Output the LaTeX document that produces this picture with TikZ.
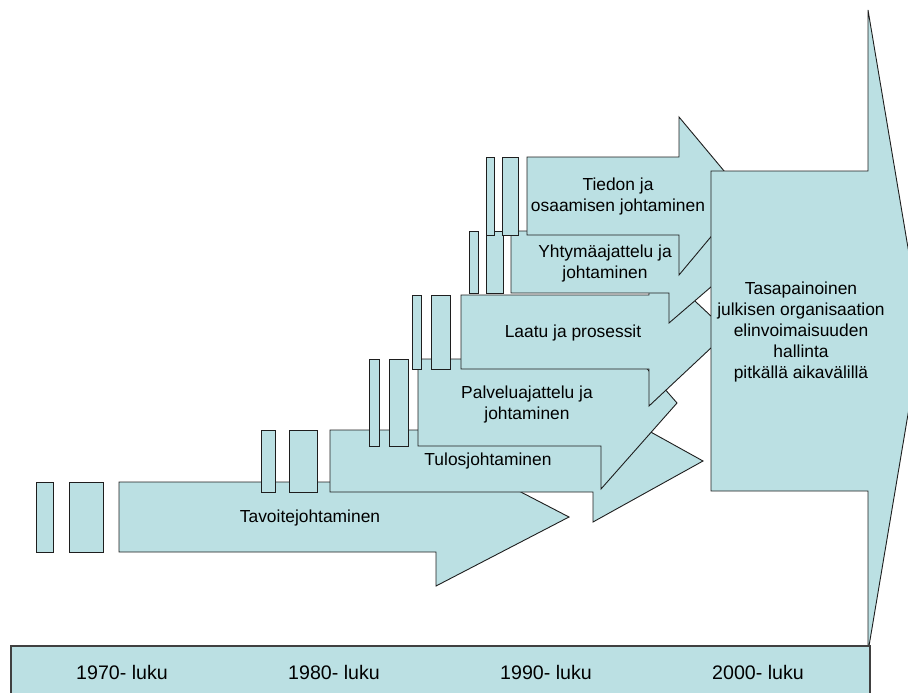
\documentclass[tikz,border=0pt]{standalone}
\usepackage{fontspec}
\setmainfont{Liberation Sans}
\definecolor{fillc}{RGB}{187,224,227}
\definecolor{linec}{RGB}{30,30,30}
\begin{document}
\begin{tikzpicture}[x=1pt,y=-1pt,
  shp/.style={fill=fillc,draw=linec,line width=0.9pt,line join=miter},
  lbl/.style={align=center,inner sep=0pt,font=\fontsize{17.4}{21}\selectfont},
  yrlbl/.style={inner sep=0pt,font=\fontsize{19.6}{22}\selectfont}]
\path[use as bounding box] (0,0) rectangle (908,693);
\clip (0,0) rectangle (908,693);
% Tavoitejohtaminen
\draw[shp] (36,482) rectangle (53,552);
\draw[shp] (69,482) rectangle (103,552);
\draw[shp] (119,482) -- (436,482) -- (436,448) -- (569,517) -- (436,586) -- (436,552) -- (119,552) -- cycle;
\node[lbl] (tavoite) at (310,518) {Tavoitejohtaminen};
% Tulosjohtaminen
\draw[shp] (261,430) rectangle (275,492);
\draw[shp] (289,430) rectangle (317,492);
\draw[shp] (330,430) -- (593,430) -- (593,400) -- (703,461) -- (593,522) -- (593,492) -- (330,492) -- cycle;
\node[lbl] (tulos) at (488,461) {Tulosjohtaminen};
% Palveluajattelu
\draw[shp] (369,359) rectangle (379,446);
\draw[shp] (389,359) rectangle (408,446);
\draw[shp] (418,359) -- (601,359) -- (601,316) -- (677,403) -- (601,489) -- (601,446) -- (418,446) -- cycle;
\node[lbl] (palvelu) at (527,404) {Palveluajattelu ja\\johtaminen};
% Laatu
\draw[shp] (412,295) rectangle (421,369);
\draw[shp] (431,295) rectangle (450,369);
\draw[shp] (461,295) -- (649,295) -- (649,258) -- (728,332) -- (649,406) -- (649,369) -- (461,369) -- cycle;
\node[lbl] (laatu) at (573,333) {Laatu ja prosessit};
% Yhtymaajattelu
\draw[shp] (469,231) rectangle (478,293);
\draw[shp] (486,231) rectangle (503,293);
\draw[shp] (511,231) -- (669,231) -- (669,201) -- (740,262) -- (669,323) -- (669,293) -- (511,293) -- cycle;
\node[lbl] (yhtyma) at (605,263) {Yhtymäajattelu ja\\johtaminen};
% Tiedon
\draw[shp] (486,157) rectangle (494,235);
\draw[shp] (502,157) rectangle (518,235);
\draw[shp] (527,157) -- (679,157) -- (679,117) -- (745,196) -- (679,275) -- (679,235) -- (527,235) -- cycle;
\node[lbl] (tiedon) at (618,196.5) {Tiedon ja\\osaamisen johtaminen};
% Big arrow
\draw[shp] (711,171) -- (868,171) -- (868,10) -- (922,331) -- (868,652) -- (868,491) -- (711,491) -- cycle;
\node[lbl] (big) at (801,332) {Tasapainoinen\\julkisen organisaation\\elinvoimaisuuden\\hallinta\\pitkällä aikavälillä};
% Bottom bar
\draw[shp,line width=1.4pt,draw=black!75] (11,646) rectangle (870,710);
\node[yrlbl] (y70) at (122,672) {1970- luku};
\node[yrlbl] (y80) at (334,672) {1980- luku};
\node[yrlbl] (y90) at (546,672) {1990- luku};
\node[yrlbl] (y00) at (758,672) {2000- luku};
\end{tikzpicture}
\end{document}
